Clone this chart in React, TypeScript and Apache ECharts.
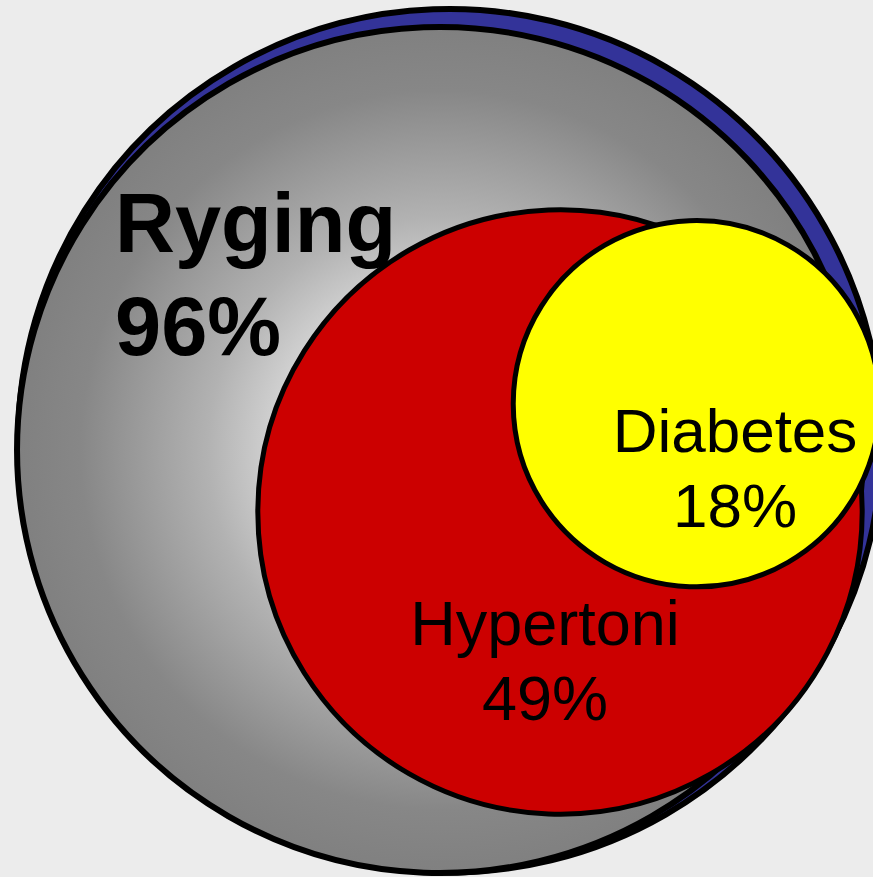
import React, { useEffect, useRef } from "react";
import * as echarts from "echarts";

// ---- data ----
const NAMES = ["Total", "Ryging", "Hypertoni", "Diabetes"];
const VALUES = [100, 96, 49, 18]; // percent of patients; circle area ∝ value
const SHOW_LABEL = [false, true, true, true];

// ---- layout (pixels on a hidden 873 x 877 value grid) ----
const PAGE_W = 873;
const PAGE_H = 877;
const RADIUS_PER_SQRT = 43.17; // px radius per sqrt(percent)
const CENTERS: number[][] = [
  [449.8, 440.7],
  [440, 450],
  [560, 512],
  [696.4, 403.7],
];
const NAME_POS: number[][] = [
  [0, 0],
  [115, 223],
  [545, 623],
  [735, 430.5],
];
const VALUE_POS: number[][] = [
  [0, 0],
  [115, 326],
  [545, 698],
  [735, 505.5],
];
const FONT_SIZES = [0, 83, 63, 62];
const FONT_WEIGHTS = ["normal", "bold", "normal", "normal"];
const ALIGNS = ["left", "left", "center", "center"];
const LINE_WIDTHS = [6, 6, 5, 5];

const grayGradient = {
  type: "radial",
  x: 0.5,
  y: 0.5,
  r: 0.5,
  colorStops: [
    { offset: 0, color: "#ffffff" },
    { offset: 0.4, color: "#d0d0d0" },
    { offset: 0.55, color: "#b2b2b2" },
    { offset: 0.85, color: "#878787" },
    { offset: 1, color: "#808080" },
  ],
};
const FILLS: any[] = ["#333399", grayGradient, "#cc0000", "#ffff00"];

const FONT_FAMILY = '"Liberation Sans", Arial, Helvetica, sans-serif';

export default function App() {
  const ref = useRef<HTMLDivElement>(null);
  useEffect(() => {
    if (!ref.current) return;
    const chart = echarts.init(ref.current, null, { renderer: "svg" });
    chart.setOption({
      animation: false,
      backgroundColor: "#ececec",
      grid: { left: 0, right: 0, top: 0, bottom: 0 },
      xAxis: { type: "value", min: 0, max: PAGE_W, show: false },
      yAxis: { type: "value", min: 0, max: PAGE_H, inverse: true, show: false },
      series: [
        {
          type: "custom",
          coordinateSystem: "cartesian2d",
          data: VALUES.map((v, i) => [i, v]),
          encode: { x: 0, y: 1 },
          renderItem: (params: any, api: any) => {
            const i = api.value(0);
            const v = api.value(1);
            const c = api.coord(CENTERS[i]);
            const r = api.size([RADIUS_PER_SQRT * Math.sqrt(v), 0])[0];
            const children: any[] = [
              {
                type: "circle",
                shape: { cx: c[0], cy: c[1], r },
                style: { fill: FILLS[i], stroke: "#000000", lineWidth: LINE_WIDTHS[i] },
              },
            ];
            if (SHOW_LABEL[i]) {
              const np = api.coord(NAME_POS[i]);
              const vp = api.coord(VALUE_POS[i]);
              const common = {
                fill: "#000000",
                fontSize: FONT_SIZES[i],
                fontWeight: FONT_WEIGHTS[i],
                fontFamily: FONT_FAMILY,
                align: ALIGNS[i],
                verticalAlign: "middle",
              };
              children.push({
                type: "text",
                style: { ...common, text: NAMES[i], x: np[0], y: np[1] },
              });
              children.push({
                type: "text",
                style: { ...common, text: `${v}%`, x: vp[0], y: vp[1] },
              });
            }
            return { type: "group", children };
          },
        },
      ],
    });
    return () => chart.dispose();
  }, []);
  return (
    <div
      ref={ref}
      style={{ position: "fixed", left: 0, top: 0, width: PAGE_W, height: PAGE_H }}
    />
  );
}
